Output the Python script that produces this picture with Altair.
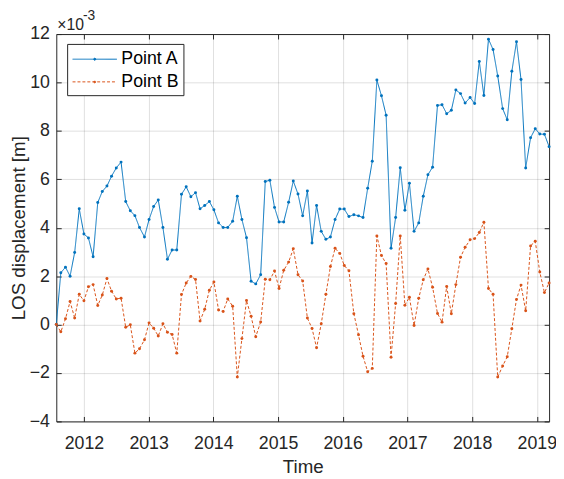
import altair as alt
import pandas as pd

# ---- data (values in units of 1e-3 m) ----
years = [
    2011.573, 2011.643, 2011.715, 2011.786, 2011.857, 2011.928, 2012.000, 2012.070,
    2012.142, 2012.214, 2012.284, 2012.356, 2012.427, 2012.500, 2012.574, 2012.646,
    2012.717, 2012.788, 2012.859, 2012.936, 2013.007, 2013.078, 2013.149, 2013.221,
    2013.291, 2013.363, 2013.435, 2013.508, 2013.581, 2013.653, 2013.725, 2013.795,
    2013.867, 2013.939, 2014.009, 2014.081, 2014.152, 2014.223, 2014.299, 2014.371,
    2014.442, 2014.513, 2014.584, 2014.656, 2014.732, 2014.803, 2014.874, 2014.946,
    2015.016, 2015.088, 2015.164, 2015.236, 2015.309, 2015.381, 2015.454, 2015.526,
    2015.596, 2015.668, 2015.740, 2015.810, 2015.882, 2015.954, 2016.024, 2016.096,
    2016.172, 2016.244, 2016.314, 2016.386, 2016.457, 2016.528, 2016.599, 2016.671,
    2016.747, 2016.818, 2016.889, 2016.961, 2017.031, 2017.103, 2017.175, 2017.245,
    2017.317, 2017.389, 2017.465, 2017.535, 2017.607, 2017.679, 2017.749, 2017.821,
    2017.892, 2017.969, 2018.039, 2018.111, 2018.182, 2018.253, 2018.324, 2018.396,
    2018.472, 2018.543, 2018.614, 2018.686, 2018.756, 2018.828, 2018.904, 2018.976,
    2019.046, 2019.118, 2019.190,
]
point_a = [
    0.00, 2.14, 2.37, 2.00, 2.98, 4.78, 3.74, 3.58,
    2.80, 5.04, 5.50, 5.72, 6.13, 6.47, 6.71, 5.08,
    4.70, 4.50, 4.01, 3.62, 4.34, 4.88, 5.15, 4.01,
    2.70, 3.08, 3.08, 5.38, 5.69, 5.28, 5.45, 4.78,
    4.92, 5.08, 4.74, 4.20, 4.01, 4.01, 4.27, 5.30,
    4.34, 3.59, 1.79, 1.68, 2.06, 5.91, 5.96, 4.84,
    4.24, 4.24, 5.05, 5.93, 5.39, 4.49, 5.52, 3.37,
    4.92, 3.85, 3.52, 3.62, 4.34, 4.77, 4.77, 4.46,
    4.54, 4.49, 4.42, 5.63, 6.75, 10.10, 9.45, 8.65,
    3.15, 4.42, 6.48, 4.72, 5.84, 3.85, 4.20, 5.30,
    6.19, 6.50, 9.05, 9.08, 8.71, 8.85, 9.69, 9.54,
    9.15, 9.38, 9.13, 10.87, 9.46, 11.79, 11.36, 10.27,
    8.92, 8.46, 10.46, 11.68, 10.12, 6.47, 7.72, 8.09,
    7.87, 7.86, 7.35,
]
point_b = [
    0.00, -0.30, 0.24, 0.95, 0.27, 1.25, 0.98, 1.56,
    1.65, 0.79, 1.22, 1.90, 1.38, 1.06, 1.09, -0.11,
    -0.01, -1.18, -1.00, -0.63, 0.07, -0.15, -0.47, 0.03,
    -0.32, -0.41, -1.18, 1.24, 1.72, 1.99, 1.86, 0.15,
    0.63, 1.42, 1.76, 0.60, 0.54, 1.06, 0.76, -2.17,
    -0.58, 0.99, 0.34, -0.50, 0.11, 1.87, 1.85, 2.21,
    1.49, 2.24, 2.58, 3.13, 2.06, 1.80, 0.27, -0.16,
    -0.96, 0.03, 1.25, 2.40, 3.15, 2.94, 2.44, 2.22,
    0.45, -0.42, -1.31, -1.95, -1.81, 3.66, 2.85, 2.52,
    -1.35, 0.87, 3.66, 0.80, 1.13, -0.04, 1.09, 1.85,
    2.30, 1.54, 0.46, 0.10, 1.57, 0.45, 1.65, 2.78,
    3.19, 3.50, 3.55, 3.80, 4.23, 1.49, 1.25, -2.17,
    -1.71, -1.33, -0.17, 1.04, 1.63, 0.57, 3.25, 3.44,
    2.17, 1.32, 1.72,
]
series_names = ["Point A", "Point B"]
series_colors = ["#0072BD", "#D95319"]
x_ticks = list(range(2012, 2020))
y_ticks = list(range(-4, 13, 2))

df = pd.DataFrame({
    "year": years + years,
    "value": point_a + point_b,
    "series": [series_names[0]] * len(years) + [series_names[1]] * len(years),
})

FONT = "Liberation Sans"
TXT = "#262626"
INWARD = {"expr": "-5"}

xscale = alt.Scale(domain=[years[0], years[-1]], nice=False, zero=False)
yscale = alt.Scale(domain=[-4, 12], nice=False, zero=False)

# legend sample: a line with a small dot in its middle
SYMBOL_PATH = "M-0.909,0H3.18M1.045,0A0.09,0.09 0 1 0 1.227,0A0.09,0.09 0 1 0 1.045,0"

legend = alt.Legend(
    title=None, orient="none", legendX=11, legendY=10,
    symbolType=SYMBOL_PATH, symbolSize=484, symbolStrokeWidth=1,
    labelFont=FONT, labelFontSize=18, labelColor="black", labelOffset=28,
    padding=4, strokeColor=TXT, fillColor="white", cornerRadius=0,
    rowPadding=2,
)

color = alt.Color("series:N", scale=alt.Scale(domain=series_names, range=series_colors), legend=legend)
dash = alt.StrokeDash("series:N", scale=alt.Scale(domain=series_names, range=[[1, 0], [3, 2]]), legend=legend)

lines = alt.Chart(df).mark_line(strokeWidth=1).encode(
    x=alt.X("year:Q", scale=xscale,
            axis=alt.Axis(values=x_ticks, format="d", title="Time", grid=True,
                          tickSize=INWARD, labelPadding=19, titlePadding=5)),
    y=alt.Y("value:Q", scale=yscale,
            axis=alt.Axis(values=y_ticks, format="d", title="LOS displacement [m]", grid=True,
                          tickSize=INWARD, labelPadding=12, titlePadding=1)),
    color=color,
    strokeDash=dash,
)

pts = alt.Chart(df).mark_circle(size=9, opacity=1).encode(
    x=alt.X("year:Q", scale=xscale,
            axis=alt.Axis(orient="top", values=x_ticks, labels=False, title=None, grid=False,
                          tickSize=INWARD)),
    y=alt.Y("value:Q", scale=yscale,
            axis=alt.Axis(orient="right", values=y_ticks, labels=False, title=None, grid=False,
                          tickSize=INWARD)),
    color=alt.Color("series:N", scale=alt.Scale(domain=series_names, range=series_colors), legend=None),
)

exp_base = alt.Chart(pd.DataFrame({"t": ["×10"]})).mark_text(
    font=FONT, fontSize=16, color=TXT, align="left", baseline="middle"
).encode(text="t:N", x=alt.value(1), y=alt.value(-9))

exp_sup = alt.Chart(pd.DataFrame({"t": ["-3"]})).mark_text(
    font=FONT, fontSize=14, color=TXT, align="left", baseline="middle"
).encode(text="t:N", x=alt.value(27), y=alt.value(-18))

chart = alt.layer(lines, pts, exp_base, exp_sup).resolve_axis(
    x="independent", y="independent"
).properties(
    width=500, height=393,
    autosize=alt.AutoSizeParams(type="none"),
    padding={"left": 49, "top": 23, "right": 7, "bottom": 55},
).configure_view(
    stroke=TXT, strokeWidth=1
).configure_axis(
    labelFont=FONT, titleFont=FONT, labelColor=TXT, titleColor=TXT,
    labelFontSize=18, titleFontSize=19, titleFontWeight="normal",
    tickColor=TXT, gridColor="#262626", gridOpacity=0.15,
    domain=False, labelFlush=False,
)

chart.save("out.html", embed_options={"renderer": "svg", "actions": False})
